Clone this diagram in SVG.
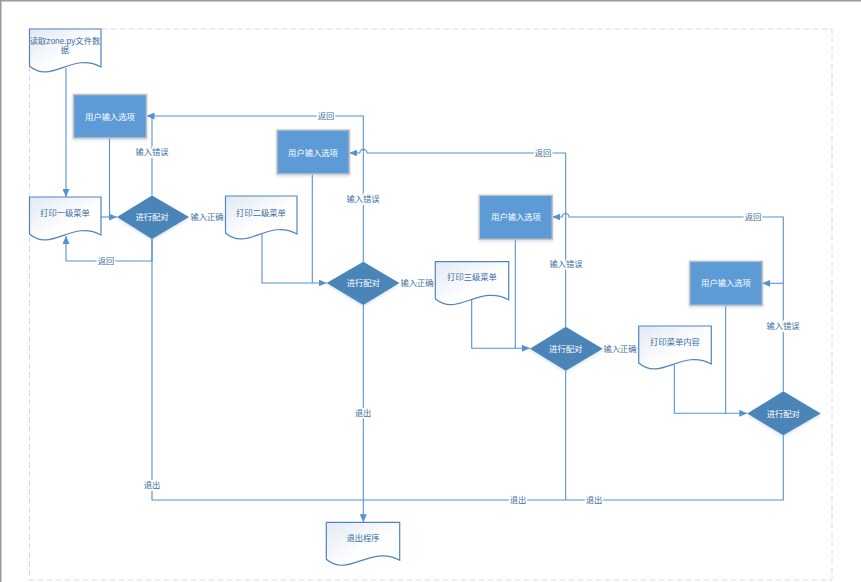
<svg xmlns="http://www.w3.org/2000/svg" width="861" height="582" viewBox="0 0 861 582">
<style>
.frame{fill:none;stroke:#9a9a9a;stroke-width:1.5}
.page{fill:none;stroke:#dadada;stroke-width:1;stroke-dasharray:6 3}
.doc{fill:url(#dg);stroke:#4f86c0;stroke-width:1.2}
.box{fill:#5b9bd5;stroke:#c3c3c3;stroke-width:1.5;filter:url(#sh)}
.dia{fill:#4b85b8;stroke:none;filter:url(#sh)}
.w{fill:#ffffff;font-family:"Liberation Sans","Noto Sans CJK SC",sans-serif;font-size:8.3px;text-anchor:middle;dominant-baseline:central}
.t{fill:#3d6ea3;font-family:"Liberation Sans","Noto Sans CJK SC",sans-serif;font-size:8.3px;text-anchor:middle;dominant-baseline:central}
.lbl{fill:#3d6ea3;font-family:"Liberation Sans","Noto Sans CJK SC",sans-serif;font-size:8.3px;text-anchor:middle;dominant-baseline:central;paint-order:stroke;stroke:#ffffff;stroke-width:3px}
.c{fill:none;stroke:#5592cf;stroke-width:1.1}
.a{marker-end:url(#ar)}
</style>
<defs>
<linearGradient id="dg" x1="0" y1="0" x2="1" y2="1">
<stop offset="0" stop-color="#e2e9f4"/>
<stop offset="0.6" stop-color="#ffffff"/>
<stop offset="1" stop-color="#ffffff"/>
</linearGradient>
<filter id="sh" x="-20%" y="-20%" width="140%" height="140%">
<feDropShadow dx="0" dy="1.5" stdDeviation="1.5" flood-color="#7fa6cf" flood-opacity="0.35"/>
</filter>
<marker id="ar" markerWidth="8" markerHeight="7" refX="8" refY="3.5" orient="auto" markerUnits="userSpaceOnUse">
<path d="M0,0 L8,3.5 L0,7 z" fill="#5592cf"/>
</marker>
</defs>
<rect x="0" y="0" width="861" height="582" fill="#ffffff"/>
<path class="frame" d="M0.75,582 V0.75 H861"/>
<rect class="page" x="29.5" y="29" width="802.5" height="551"/>

<g id="connectors">
<path class="c a" d="M66,68 V197"/>
<path class="c a" d="M101,217 H117"/>
<path class="c" d="M109.5,138 V217"/>
<path class="c a" d="M152,195.5 V116 H146.5"/>
<path class="c a" d="M152,239 V261 H66 V236"/>
<path class="c" d="M152,239 V500 H783.3 V435.3"/>
<path class="c" d="M189,217 H225.5"/>
<path class="c a" d="M262,234 V283 H326.7"/>
<path class="c" d="M312.3,174 V283"/>
<path class="c" d="M363.3,261.7 V116 H150"/>
<path class="c" d="M399.3,283 H435.3"/>
<path class="c a" d="M471.7,300 V348.3 H530"/>
<path class="c" d="M515.3,239.3 V348.3"/>
<path class="c a" d="M565.7,326.7 V153 H367 A3.5,3.5 0 0 0 359.8,153 H349.3"/>
<path class="c" d="M565.7,370.7 V500"/>
<path class="c" d="M602.7,348.7 H638.7"/>
<path class="c a" d="M674.3,365 V413.3 H747.3"/>
<path class="c" d="M725.7,305.3 V413.3"/>
<path class="c a" d="M783.3,391.3 V217 H569.2 A3.5,3.5 0 0 0 562.2,217 H552.3"/>
<path class="c a" d="M783.3,283.3 H762.3"/>
<path class="c a" d="M363.3,305 V522.3"/>
<text class="lbl" x="152" y="152">输入错误</text>
<text class="lbl" x="106" y="261">返回</text>
<text class="lbl" x="207" y="217">输入正确</text>
<text class="lbl" x="152" y="485">退出</text>
<text class="lbl" x="326" y="116">返回</text>
<text class="lbl" x="363" y="199">输入错误</text>
<text class="lbl" x="417" y="283">输入正确</text>
<text class="lbl" x="363" y="413">退出</text>
<text class="lbl" x="543" y="153">返回</text>
<text class="lbl" x="566" y="264">输入错误</text>
<text class="lbl" x="620" y="348.5">输入正确</text>
<text class="lbl" x="753" y="217">返回</text>
<text class="lbl" x="783" y="326">输入错误</text>
<text class="lbl" x="518" y="500">退出</text>
<text class="lbl" x="594" y="500">退出</text>
</g>

<g id="doc-read">
<path class="doc" d="M29.5,29 H101 V67 C72.4,51 51,85 29.5,66 Z"/>
<text class="t" x="65" y="40.7">读取zone.py文件数</text>
<text class="t" x="65" y="50">据</text>
</g>

<g id="doc-menu1">
<path class="doc" d="M29.5,197 H101 V235 C72.4,219 51,253 29.5,234 Z"/>
<text class="t" x="65" y="213">打印一级菜单</text>
</g>

<g id="box1">
<rect class="box" x="73.5" y="94.5" width="73" height="43.5"/>
<text class="w" x="110" y="116.5">用户输入选项</text>
</g>

<g id="dia1">
<path class="dia" d="M152,195.5 L189,217 L152,239 L117,217 Z"/>
<text class="w" x="152" y="217">进行配对</text>
</g>

<g id="doc-menu2">
<path class="doc" d="M225.5,196 H297 V234 C268.4,218 247,252 225.5,233 Z"/>
<text class="t" x="261" y="213">打印二级菜单</text>
</g>

<g id="box2">
<rect class="box" x="277" y="130" width="72.3" height="44"/>
<text class="w" x="313" y="153">用户输入选项</text>
</g>

<g id="dia2">
<path class="dia" d="M363.3,261.7 L399.3,283 L363.3,305 L326.7,283 Z"/>
<text class="w" x="363.3" y="283">进行配对</text>
</g>

<g id="doc-menu3">
<path class="doc" d="M435.3,261.7 H508.7 V299.7 C479.3,283.7 457.3,317.7 435.3,298.7 Z"/>
<text class="t" x="472" y="277">打印三级菜单</text>
</g>

<g id="box3">
<rect class="box" x="479.3" y="195.3" width="73" height="44"/>
<text class="w" x="516" y="217.3">用户输入选项</text>
</g>

<g id="dia3">
<path class="dia" d="M565.7,326.7 L602.7,348.7 L565.7,370.7 L530,348.7 Z"/>
<text class="w" x="565.7" y="348.7">进行配对</text>
</g>

<g id="doc-content">
<path class="doc" d="M638.7,326 H711.3 V364 C682.3,348 660.5,382 638.7,363 Z"/>
<text class="t" x="675" y="342">打印菜单内容</text>
</g>

<g id="box4">
<rect class="box" x="689.7" y="261.3" width="72.6" height="44"/>
<text class="w" x="726" y="283.3">用户输入选项</text>
</g>

<g id="dia4">
<path class="dia" d="M783.3,391.3 L820.7,413.5 L783.3,435.3 L747.3,413.5 Z"/>
<text class="w" x="783.3" y="413.5">进行配对</text>
</g>

<g id="doc-exit">
<path class="doc" d="M326.3,522.3 H399.7 V560.3 C370.3,544.3 348.3,578.3 326.3,559.3 Z"/>
<text class="t" x="363" y="538">退出程序</text>
</g>
</svg>
